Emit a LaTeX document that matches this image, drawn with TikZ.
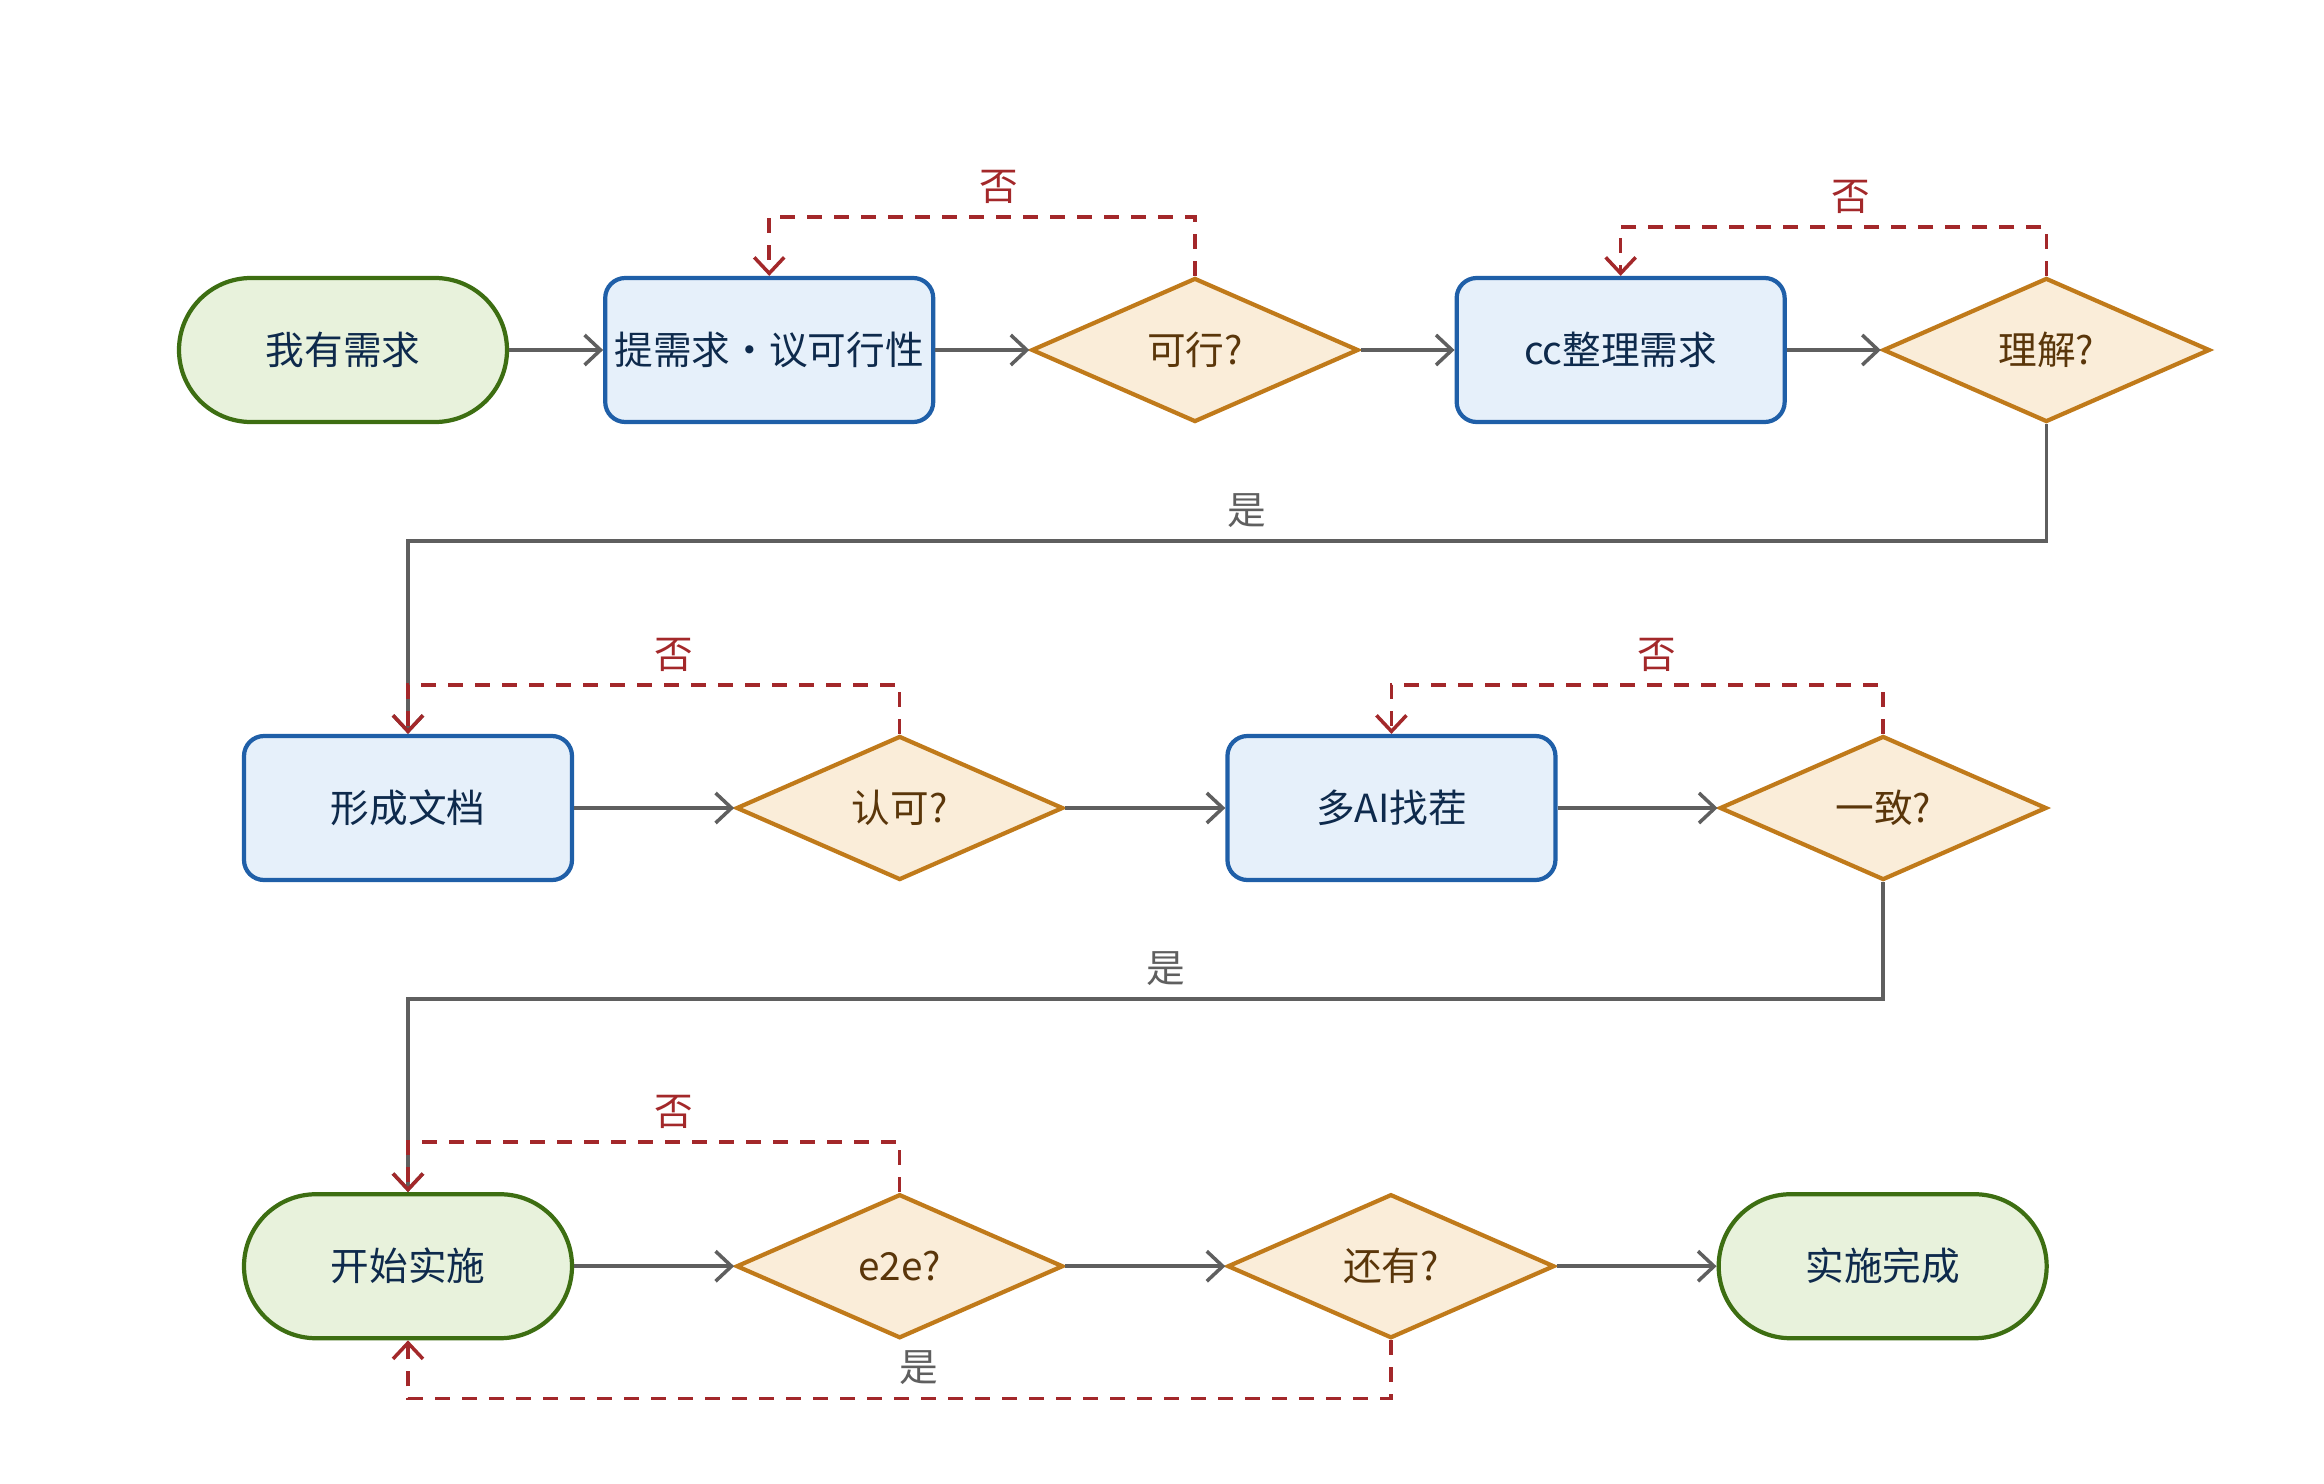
\documentclass[tikz,border=0pt]{standalone}
\usepackage{fontspec}
\setmainfont{Noto Sans CJK SC}
\usetikzlibrary{positioning,shapes.geometric,arrows.meta}
\definecolor{leaf}{HTML}{3D6E12}
\definecolor{leaffill}{HTML}{E8F2DC}
\definecolor{sea}{HTML}{1F5FA8}
\definecolor{seafill}{HTML}{E6F0FA}
\definecolor{amber}{HTML}{C07A1A}
\definecolor{amberfill}{HTML}{FAEDD9}
\definecolor{navy}{HTML}{0E2A4C}
\definecolor{umber}{HTML}{5A360A}
\definecolor{brick}{HTML}{A3282A}
\definecolor{slate}{HTML}{5F5F5F}

\begin{document}
\begin{tikzpicture}[font=\fontsize{11pt}{13pt}\selectfont,
    terminal/.style={draw=leaf,fill=leaffill,line width=1.2pt,rounded corners=0.72cm,minimum width=3.28cm,minimum height=1.44cm,inner sep=0.05cm,text=navy},
    task/.style={draw=sea,fill=seafill,line width=1.2pt,rounded corners=0.2cm,minimum width=3.28cm,minimum height=1.44cm,inner sep=0.05cm,text=navy},
    check/.style={diamond,draw=amber,fill=amberfill,line width=1.2pt,minimum width=3.27cm,minimum height=1.44cm,inner sep=0pt,text=umber},
    flow/.style={-{Straight Barb[length=1.6mm,width=3mm]},slate,line width=1pt},
    back/.style={flow,brick,dash pattern=on 1.5mm off 1.2mm},
    nolab/.style={above,brick},
    yeslab/.style={above,slate}]
  \useasboundingbox (0,0) rectangle (23.24,-14.84);
  % row 1
  \node[terminal] (start) at (3.43,-3.50) {我有需求};
  \node[task,right=0.94cm of start] (ask) {提需求・议可行性};
  \node[check,right=0.94cm of ask] (feasible) {可行?};
  \node[task,right=0.94cm of feasible] (sort) {cc整理需求};
  \node[check,right=0.94cm of sort] (grasp) {理解?};
  % row 2
  \node[task] (doc) at (4.08,-8.08) {形成文档};
  \node[check,right=1.60cm of doc] (approve) {认可?};
  \node[task,right=1.60cm of approve] (review) {多AI找茬};
  \node[check,right=1.60cm of review] (agree) {一致?};
  % row 3
  \node[terminal,below=3.10cm of doc] (impl) {开始实施};
  \node[check,right=1.60cm of impl] (etoe) {e2e?};
  \node[check,right=1.60cm of etoe] (more) {还有?};
  \node[terminal,right=1.60cm of more] (done) {实施完成};

  \draw[flow] (start)--(ask); \draw[flow] (ask)--(feasible); \draw[flow] (feasible)--(sort); \draw[flow] (sort)--(grasp);
  \draw[flow] (doc)--(approve); \draw[flow] (approve)--(review); \draw[flow] (review)--(agree);
  \draw[flow] (impl)--(etoe); \draw[flow] (etoe)--(more); \draw[flow] (more)--(done);

  % yes: next row
  \draw[flow] (grasp.south) -- ++(0,-1.17) -| node[pos=0.244,yeslab] (yes1) {是} (doc.north);
  \draw[flow] (agree.south) -- ++(0,-1.17) -| node[pos=0.243,yeslab] (yes2) {是} (impl.north);

  % no: back
  \draw[back] (feasible.north) -- ++(0,0.59) -| node[pos=0.23,nolab] (no1) {否} (ask.north);
  \draw[back] (grasp.north) -- ++(0,0.49) -| node[pos=0.23,nolab] (no2) {否} (sort.north);
  \draw[back] (approve.north) -- ++(0,0.49) -| node[pos=0.23,nolab] (no3) {否} (doc.north);
  \draw[back] (agree.north) -- ++(0,0.49) -| node[pos=0.23,nolab] (no4) {否} (review.north);
  \draw[back] (etoe.north) -- ++(0,0.50) -| node[pos=0.23,nolab] (no5) {否} (impl.north);
  \draw[back] (more.south) -- ++(0,-0.58) -| node[pos=0.24,yeslab] (yes3) {是} (impl.south);
\end{tikzpicture}
\end{document}
